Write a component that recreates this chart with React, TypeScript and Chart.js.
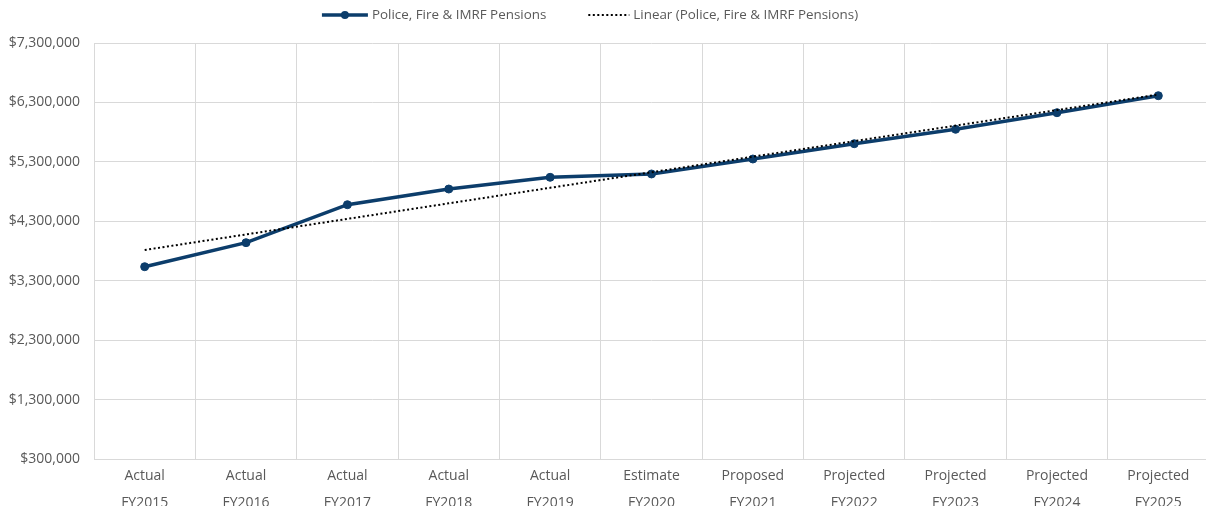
import React, { useEffect, useRef } from "react";
import { Chart, registerables } from "chart.js";

Chart.register(...registerables);

// Budget stage and fiscal year for each column
const stages = [
  "Actual", "Actual", "Actual", "Actual", "Actual", "Estimate",
  "Proposed", "Projected", "Projected", "Projected", "Projected",
];
const fiscalYears = [
  "FY2015", "FY2016", "FY2017", "FY2018", "FY2019", "FY2020",
  "FY2021", "FY2022", "FY2023", "FY2024", "FY2025",
];

// Police, Fire & IMRF pension costs
const pensionCosts = [
  3536000, 3940000, 4579000, 4843000, 5040000, 5096000,
  5348000, 5605000, 5848000, 6127000, 6413000,
];

// Value axis ticks
const yTickValues = [
  300000, 1300000, 2300000, 3300000, 4300000, 5300000, 6300000, 7300000,
];

const seriesName = "Police, Fire & IMRF Pensions";
const trendName = "Linear (Police, Fire & IMRF Pensions)";

const NAVY = "#0c3d6b";
const TEXT = "#595959";
const GRID = "#d9d9d9";
const FONT = "'Open Sans', Lato, sans-serif";

// Least-squares line through the series, evaluated at each column
function linearTrend(values: number[]): number[] {
  const n = values.length;
  const xs = values.map((_, i) => i);
  const mx = xs.reduce((a, b) => a + b, 0) / n;
  const my = values.reduce((a, b) => a + b, 0) / n;
  let num = 0;
  let den = 0;
  xs.forEach((x, i) => {
    num += (x - mx) * (values[i] - my);
    den += (x - mx) * (x - mx);
  });
  const slope = num / den;
  const intercept = my - slope * mx;
  return xs.map((x) => intercept + slope * x);
}

// Legend row across the top: line-with-marker key and dotted trend key
const seriesKey = {
  id: "seriesKey",
  afterDraw(chart: any) {
    const ctx: CanvasRenderingContext2D = chart.ctx;
    const markerKeyW = 46;
    const dottedKeyW = 41;
    const textGap = 4;
    const itemGap = 42;
    const y = 15;
    ctx.save();
    ctx.font = `13.4px ${FONT}`;
    const w1 = ctx.measureText(seriesName).width;
    const w2 = ctx.measureText(trendName).width;
    const total = markerKeyW + textGap + w1 + itemGap + dottedKeyW + textGap + w2;
    let x = chart.width / 2 - 17 - total / 2;

    // series key
    ctx.strokeStyle = NAVY;
    ctx.lineWidth = 3.5;
    ctx.beginPath();
    ctx.moveTo(x, y);
    ctx.lineTo(x + markerKeyW, y);
    ctx.stroke();
    ctx.fillStyle = NAVY;
    ctx.beginPath();
    ctx.arc(x + markerKeyW / 2, y, 4, 0, Math.PI * 2);
    ctx.fill();
    x += markerKeyW + textGap;
    ctx.fillStyle = TEXT;
    ctx.textBaseline = "middle";
    ctx.textAlign = "left";
    ctx.fillText(seriesName, x, y);
    x += w1 + itemGap;

    // trend key
    ctx.strokeStyle = "#000000";
    ctx.lineWidth = 2;
    ctx.setLineDash([2, 2.5]);
    ctx.beginPath();
    ctx.moveTo(x, y);
    ctx.lineTo(x + dottedKeyW, y);
    ctx.stroke();
    ctx.setLineDash([]);
    x += dottedKeyW + textGap;
    ctx.fillStyle = TEXT;
    ctx.fillText(trendName, x, y);
    ctx.restore();
  },
};

export default function App() {
  const canvasRef = useRef<HTMLCanvasElement | null>(null);

  useEffect(() => {
    const canvas = canvasRef.current;
    if (!canvas) return;

    const labels = stages.map((s, i) => [s, fiscalYears[i]]);
    const trend = linearTrend(pensionCosts);

    const chart = new Chart(canvas, {
      type: "line",
      data: {
        labels,
        datasets: [
          {
            label: seriesName,
            data: pensionCosts,
            borderColor: NAVY,
            backgroundColor: NAVY,
            borderWidth: 3.5,
            pointRadius: 4,
            pointBackgroundColor: NAVY,
            pointBorderColor: NAVY,
            pointBorderWidth: 1,
            tension: 0,
            order: 1,
          },
          {
            label: trendName,
            data: trend,
            borderColor: "#000000",
            borderWidth: 2,
            borderDash: [2, 2.5],
            pointRadius: 0,
            tension: 0,
            order: 0,
          },
        ],
      },
      options: {
        responsive: false,
        animation: false,
        devicePixelRatio: 1,
        layout: { padding: { top: 43, left: 0, right: 0, bottom: 0 } },
        plugins: {
          tooltip: { enabled: false },
          legend: { display: false },
        },
        scales: {
          x: {
            type: "category",
            offset: true,
            grid: {
              color: GRID,
              lineWidth: 1,
              offset: true,
              drawTicks: false,
            },
            border: { color: GRID, width: 1 },
            ticks: {
              color: TEXT,
              font: { family: FONT, size: 14, lineHeight: "27px" },
              padding: 4,
              maxRotation: 0,
              autoSkip: false,
            },
            afterFit: (scale: any) => {
              scale.height = 71;
            },
          },
          y: {
            min: 300000,
            max: 7300000,
            grid: { color: GRID, lineWidth: 1, drawTicks: false },
            border: { display: false },
            afterBuildTicks: (scale: any) => {
              scale.ticks = yTickValues.map((v) => ({ value: v }));
            },
            ticks: {
              color: TEXT,
              font: { family: FONT, size: 14 },
              padding: 14,
              callback: (v: any) => "$" + Number(v).toLocaleString("en-US"),
            },
            afterFit: (scale: any) => {
              scale.width = 94;
            },
          },
        },
      },
      plugins: [seriesKey],
    });

    return () => chart.destroy();
  }, []);

  return (
    <div
      style={{
        position: "absolute",
        left: 0,
        top: 0,
        width: 1206,
        height: 506,
        overflow: "hidden",
        background: "#ffffff",
      }}
    >
      <canvas ref={canvasRef} width={1214} height={530} style={{ display: "block" }} />
    </div>
  );
}
